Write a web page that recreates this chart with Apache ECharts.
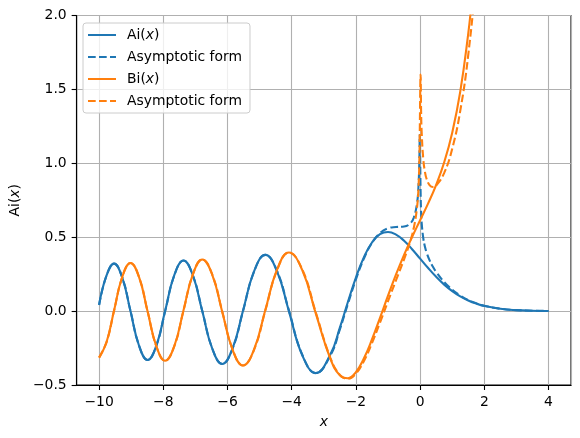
<!DOCTYPE html>
<html>
<head>
<meta charset="utf-8">
<script src="https://cdn.jsdelivr.net/npm/echarts@6/dist/echarts.min.js"></script>
<style>
  html, body { margin: 0; padding: 0; background: #fff; }
  #chart { width: 580px; height: 438px; }
</style>
</head>
<body>
<div id="chart"></div>
<script>
// Ai(x), Bi(x) and their asymptotic forms
var aiX = [-10, -9.7677, -9.5354, -9.2791, -9.0227, -8.7556, -8.4885, -8.2163, -7.9441, -7.6582,
    -7.3722, -7.0795, -6.7867, -6.475, -6.1633, -5.842, -5.5206, -5.1704, -4.8201, -4.454,
    -4.0879, -3.668, -3.2482, -2.7932, -2.5, -2.25, -2, -1.75, -1.5, -1.25,
    -1, -0.75, -0.5, -0.25, 0, 0.25, 0.5, 0.75, 1, 1.25,
    1.5, 1.75, 2, 2.5, 3, 3.5, 4];
var aiY = [0.0424, 0.2414, 0.3210, 0.2264, 0, -0.2344, -0.3305, -0.2329, 0, 0.2430,
    0.3423, 0.2411, 0, -0.2545, -0.3579, -0.2518, 0, 0.2711, 0.3804, 0.2669,
    0, -0.3007, -0.4190, -0.2922, -0.1123, 0.0618, 0.2274, 0.3655, 0.4642, 0.5200,
    0.5356, 0.5178, 0.4757, 0.4187, 0.3550, 0.2912, 0.2317, 0.1793, 0.1353, 0.0996,
    0.0718, 0.0506, 0.0349, 0.0157, 0.0066, 0.0027, 0.0010];

var biX = [-10, -9.7677, -9.5354, -9.2791, -9.0227, -8.7556, -8.4885, -8.2163, -7.9441, -7.6582,
    -7.3722, -7.0795, -6.7867, -6.475, -6.1633, -5.842, -5.5206, -5.1704, -4.8201, -4.454,
    -4.0879, -3.668, -3.2482, -2.7932, -2.5, -2.25, -2, -1.75, -1.5, -1.25,
    -1, -0.75, -0.5, -0.25, 0, 0.25, 0.5, 0.75, 1, 1.25,
    1.5, 1.6, 1.75, 2];
var biY = [-0.3147, -0.2088, 0.0028, 0.2307, 0.3255, 0.2294, -0.0033, -0.2383, -0.3360, -0.2366,
    0.0043, 0.2480, 0.3495, 0.2456, -0.0059, -0.2614, -0.3680, -0.2579, 0.0089, 0.2821,
    0.3965, 0.2753, -0.0173, -0.3241, -0.4344, -0.4539, -0.4123, -0.3195, -0.1918, -0.0459,
    0.1040, 0.2478, 0.3804, 0.5014, 0.6149, 0.7287, 0.8543, 1.0069, 1.2074, 1.4844,
    1.8789, 2.0825, 2.4523, 3.2981];

var asymX = [-10, -9.7677, -9.5354, -9.2791, -9.0227, -8.7556, -8.4885, -8.2163, -7.9441, -7.6582,
    -7.3722, -7.0795, -6.7867, -6.475, -6.1633, -5.842, -5.5206, -5.1704, -4.8201, -4.454,
    -4.0879, -3.668, -3.2482, -2.7932, -2.5, -2.25, -2, -1.75, -1.5, -1.25,
    -1, -0.75, -0.5, -0.3, -0.2, -0.1, -0.05, -0.02, -0.0126,
    0.0155, 0.03, 0.05, 0.1, 0.15, 0.2, 0.3, 0.4, 0.5, 0.75,
    1, 1.25, 1.5, 1.75, 2, 2.5, 3, 3.5, 4];
var aiAsymY = [0.0414, 0.2407, 0.3210, 0.2272, 0.0013, -0.2335, -0.3305, -0.2340, -0.0016, 0.2418,
    0.3423, 0.2425, 0.0021, -0.2530, -0.3579, -0.2537, -0.0030, 0.2688, 0.3805, 0.2700,
    0.0050, -0.2966, -0.4201, -0.2994, -0.1236, 0.0488, 0.2151, 0.3562, 0.4614, 0.5279,
    0.5602, 0.5690, 0.5721, 0.5948, 0.6311, 0.7242, 0.8499, 1.0628, 1.1919,
    0.7985, 0.6755, 0.5921, 0.4912, 0.4361, 0.3974, 0.3416, 0.2997, 0.2650, 0.1966,
    0.1448, 0.1051, 0.0749, 0.0524, 0.0360, 0.0161, 0.0067, 0.0026, 0.0010];
var biAsymY = [-0.3148, -0.2096, 0.0017, 0.2299, 0.3255, 0.2303, -0.0019, -0.2373, -0.3360, -0.2378,
    0.0025, 0.2467, 0.3495, 0.2472, -0.0035, -0.2595, -0.3680, -0.2603, 0.0052, 0.2791,
    0.3965, 0.2798, -0.0102, -0.3176, -0.4313, -0.4581, -0.4229, -0.3372, -0.2168, -0.0778,
    0.0668, 0.2092, 0.3505, 0.4769, 0.5600, 0.6943, 0.8374, 1.0588, 1.1896,
    1.6010, 1.3603, 1.2021, 1.0247, 0.9424, 0.8955, 0.8506, 0.8397, 0.8493, 0.9348,
    1.0989, 1.3547, 1.7350, 2.2959, 3.1267, 4.5, 7, 11, 17];

var xTicks = [-10, -8, -6, -4, -2, 0, 2, 4];
var yTicks = [-0.5, 0.0, 0.5, 1.0, 1.5, 2.0];

var legendLabels = {
    ai: '{n|Ai(}{i|x}{n|)}',
    aiAsym: '{n|Asymptotic form}',
    bi: '{n|Bi(}{i|x}{n|)}',
    biAsym: '{n|Asymptotic form}'
};

var BLUE = '#1f77b4', ORANGE = '#ff7f0e';
var FONT = 'DejaVu Sans';
var richText = {
    n: { fontFamily: FONT, fontSize: 13.9, color: '#000' },
    i: { fontFamily: FONT, fontSize: 13.9, fontStyle: 'italic', color: '#000' }
};

function zip(xs, ys) {
    var out = [];
    for (var k = 0; k < xs.length && k < ys.length; k++) out.push([xs[k], ys[k]]);
    return out;
}
function minus(s) { return String(s).replace('-', '\u2212'); }

var chart = echarts.init(document.getElementById('chart'), null, { renderer: 'canvas' });

function lineSeries(name, xs, ys, color, dashed) {
    return {
        name: name,
        type: 'line',
        data: zip(xs, ys),
        smooth: 0.45,
        symbol: 'none',
        clip: true,
        animation: false,
        lineStyle: { color: color, width: 2.1, type: dashed ? [7.7, 3.3] : 'solid' },
        itemStyle: { color: color }
    };
}

var option = {
    animation: false,
    textStyle: { fontFamily: FONT },
    grid: {
        left: 75, top: 15.5, right: 9, bottom: 53,
        show: true, borderColor: '#000', borderWidth: 1.1, backgroundColor: 'transparent'
    },
    legend: {
        orient: 'vertical',
        left: 83, top: 23,
        padding: [5, 8, 5, 4],
        itemWidth: 28, itemHeight: 14, itemGap: 8,
        backgroundColor: 'rgba(255,255,255,0.8)',
        borderColor: '#cccccc', borderWidth: 1, borderRadius: 3,
        itemStyle: { opacity: 0 },
        data: ['ai', 'aiAsym', 'bi', 'biAsym'],
        formatter: function (name) { return legendLabels[name]; },
        textStyle: { fontFamily: FONT, fontSize: 13.9, color: '#000', padding: [0, 0, 0, 6], rich: richText }
    },
    xAxis: {
        type: 'value',
        min: -10.7, max: 4.7,
        splitNumber: 8,
        name: 'x',
        nameLocation: 'middle',
        nameGap: 30,
        nameTextStyle: { fontFamily: FONT, fontSize: 13.9, fontStyle: 'italic', color: '#000' },
        axisLine: { show: true, onZero: false, lineStyle: { color: '#000', width: 1.1 } },
        axisTick: { show: true, inside: false, length: 5, lineStyle: { color: '#000', width: 1.1 } },
        axisLabel: {
            margin: 10, fontFamily: FONT, fontSize: 13.9, color: '#000',
            showMinLabel: false, showMaxLabel: false,
            formatter: function (v) { return xTicks.indexOf(v) >= 0 ? minus(v) : ''; }
        },
        splitLine: { show: true, lineStyle: { color: '#b0b0b0', width: 1.1 } }
    },
    yAxis: {
        type: 'value',
        min: -0.5, max: 2.0, interval: 0.5,
        name: '{n|Ai(}{i|x}{n|)}',
        nameLocation: 'middle',
        nameGap: 52,
        nameRotate: 90,
        nameTextStyle: { fontFamily: FONT, fontSize: 13.9, color: '#000', rich: richText },
        axisLine: { show: true, onZero: false, lineStyle: { color: '#000', width: 1.1 } },
        axisTick: { show: true, inside: false, length: 5, lineStyle: { color: '#000', width: 1.1 } },
        axisLabel: {
            margin: 10, fontFamily: FONT, fontSize: 13.9, color: '#000',
            formatter: function (v) {
                for (var k = 0; k < yTicks.length; k++) {
                    if (Math.abs(yTicks[k] - v) < 1e-9) return minus(yTicks[k].toFixed(1));
                }
                return '';
            }
        },
        splitLine: { show: true, lineStyle: { color: '#b0b0b0', width: 1.1 } }
    },
    series: [
        lineSeries('ai', aiX, aiY, BLUE, false),
        lineSeries('aiAsym', asymX, aiAsymY, BLUE, true),
        lineSeries('bi', biX, biY, ORANGE, false),
        lineSeries('biAsym', asymX, biAsymY, ORANGE, true)
    ]
};

chart.setOption(option);
</script>
</body>
</html>
